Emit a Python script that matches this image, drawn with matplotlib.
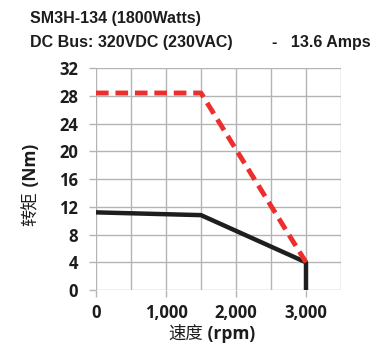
import matplotlib
matplotlib.use("Agg")
import matplotlib.pyplot as plt
from matplotlib.ticker import MultipleLocator

# curve data
speed_peak = [0, 1500, 3000]
torque_peak = [28.4, 28.4, 4.0]
speed_cont = [0, 1500, 3000, 3000]
torque_cont = [11.2, 10.8, 4.0, 0.0]

x_ticks = [0, 1000, 2000, 3000]
x_labels = ["0", "1,000", "2,000", "3,000"]
y_ticks = [0, 4, 8, 12, 16, 20, 24, 28, 32]

title1 = "SM3H-134 (1800Watts)"
title2 = "DC Bus: 320VDC (230VAC)"
title3 = "-   13.6 Amps"

fonts = ['Open Sans', 'Noto Sans CJK SC', 'DejaVu Sans']
plt.rcParams['font.family'] = fonts
ink = '#1c1c1c'

fig = plt.figure(figsize=(3.84, 3.47), dpi=100)
ax = fig.add_axes([0.25, 0.164, 0.638, 0.64])

ax.plot(speed_cont, torque_cont, color='#1e1e1e', lw=3.2, solid_capstyle='round', zorder=3)
ax.plot(speed_peak, torque_peak, color='#ee2d2d', lw=3.5, dashes=(2.6, 1.4), zorder=4)

ax.set_xlim(0, 3500)
ax.set_ylim(0, 32)
ax.set_xticks(x_ticks)
ax.set_xticklabels(x_labels)
ax.xaxis.set_minor_locator(MultipleLocator(500))
ax.set_yticks(y_ticks)
ax.grid(True, which='both', color='#b4b4b4', lw=1.0)
ax.set_axisbelow(True)
for s in ax.spines.values():
    s.set_visible(False)
ax.tick_params(which='major', length=5, color='#b4b4b4', width=1)
ax.tick_params(axis='x', pad=5)
ax.tick_params(axis='y', pad=8)
ax.tick_params(which='minor', length=0)
for lab in ax.get_xticklabels() + ax.get_yticklabels():
    lab.set_fontweight('bold')
    lab.set_fontsize(12)
    lab.set_color(ink)


def two_part_label(x, y, cjk, latin, rotation=0, size=12.5):
    # CJK part regular, latin part bold, centred together at (x, y) in pixels
    if rotation == 0:
        kw = dict(va='baseline', ha='left')
    else:
        kw = dict(va='center', ha='center')
    t1 = fig.text(0, 0, cjk, fontsize=size, color=ink, rotation=rotation, **kw)
    t2 = fig.text(0, 0, latin, fontsize=size, fontweight='bold', color=ink,
                  rotation=rotation, **kw)
    fig.canvas.draw()
    r = fig.canvas.get_renderer()
    e1 = t1.get_window_extent(r)
    e2 = t2.get_window_extent(r)
    W, H = fig.bbox.width, fig.bbox.height
    if rotation == 0:
        total = e1.width + e2.width
        x0 = x - total / 2
        t1.set_position((x0 / W, y / H))
        t2.set_position(((x0 + e1.width) / W, y / H))
    else:
        total = e1.height + e2.height
        y0 = y - total / 2
        t1.set_position((x / W, (y0 + e1.height / 2) / H))
        t2.set_position((x / W, (y0 + e1.height + e2.height / 2) / H))


two_part_label(212, 347 - 339, "速度", " (rpm)")
two_part_label(31, 347 - 185, "转矩", " (Nm)", rotation=90)

fig.text(30 / 384, 1 - 19 / 347, title1, fontsize=11.5, fontweight='bold',
         family='Liberation Sans', color=ink, va='center')
fig.text(30 / 384, 1 - 43 / 347, title2, fontsize=11.5, fontweight='bold',
         family='Liberation Sans', color=ink, va='center')
fig.text(272 / 384, 1 - 43 / 347, title3, fontsize=11.5, fontweight='bold',
         family='Liberation Sans', color=ink, va='center')

fig.savefig("out.png", dpi=100)
